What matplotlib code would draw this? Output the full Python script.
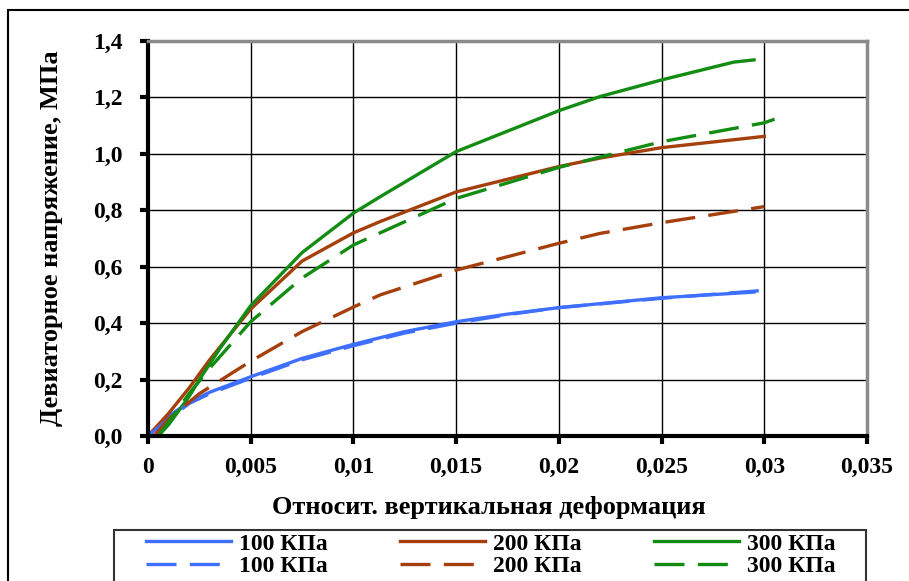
import matplotlib.pyplot as plt
from matplotlib.patches import Rectangle
from matplotlib.lines import Line2D

plt.rcParams['font.family'] = ['Liberation Serif', 'DejaVu Serif']
plt.rcParams['font.weight'] = 'bold'

# values
x_100 = [0, 0.001, 0.002, 0.003, 0.005, 0.0075, 0.01, 0.0125, 0.015, 0.0175, 0.02, 0.025, 0.0295]
y_100 = [0, 0.07, 0.12, 0.155, 0.21, 0.275, 0.325, 0.37, 0.405, 0.432, 0.455, 0.49, 0.51]
x_100d = [0, 0.001, 0.002, 0.003, 0.005, 0.0075, 0.01, 0.0125, 0.015, 0.0175, 0.02, 0.025, 0.0303]
y_100d = [0, 0.06, 0.115, 0.15, 0.205, 0.27, 0.32, 0.365, 0.40, 0.43, 0.455, 0.488, 0.518]

x_200 = [0, 0.001, 0.002, 0.003, 0.004, 0.005, 0.0075, 0.01, 0.0113, 0.015, 0.02, 0.022, 0.025, 0.03]
y_200 = [0, 0.08, 0.17, 0.27, 0.36, 0.45, 0.62, 0.72, 0.76, 0.865, 0.955, 0.985, 1.022, 1.062]
x_200d = [0.0003, 0.001, 0.0025, 0.005, 0.0075, 0.01, 0.0113, 0.015, 0.02, 0.022, 0.025, 0.03]
y_200d = [0, 0.06, 0.15, 0.265, 0.37, 0.457, 0.5, 0.588, 0.683, 0.718, 0.756, 0.813]

x_300 = [0.0005, 0.001, 0.002, 0.0025, 0.0035, 0.005, 0.0075, 0.01, 0.0113, 0.015, 0.02, 0.022, 0.025, 0.0285, 0.0295]
y_300 = [0, 0.04, 0.14, 0.2, 0.31, 0.462, 0.65, 0.79, 0.848, 1.008, 1.153, 1.203, 1.262, 1.325, 1.333]
x_300d = [0.0005, 0.001, 0.002, 0.003, 0.005, 0.0075, 0.01, 0.0113, 0.015, 0.02, 0.025, 0.03, 0.0305]
y_300d = [0, 0.05, 0.15, 0.24, 0.405, 0.56, 0.677, 0.72, 0.842, 0.952, 1.043, 1.11, 1.123]

x_ticks = [0, 0.005, 0.01, 0.015, 0.02, 0.025, 0.03, 0.035]
x_ticklabels = ['0', '0,005', '0,01', '0,015', '0,02', '0,025', '0,03', '0,035']
y_ticks = [0, 0.2, 0.4, 0.6, 0.8, 1.0, 1.2, 1.4]
y_ticklabels = ['0,0', '0,2', '0,4', '0,6', '0,8', '1,0', '1,2', '1,4']
labels = ['100 КПа', '200 КПа', '300 КПа']

blue = '#3f6fff'
brown = '#a53f0c'
green = '#128c12'
lw = 2.4
dash = (9, 4)

W, H = 909, 581
fig = plt.figure(figsize=(W / 100, H / 100), dpi=100)
ax = fig.add_axes([148 / W, 145 / H, 719 / W, 395 / H])

ax.plot(x_100, y_100, color=blue, lw=lw)
ax.plot(x_200, y_200, color=brown, lw=lw)
ax.plot(x_300, y_300, color=green, lw=lw)
ax.plot(x_100d, y_100d, color=blue, lw=lw, dashes=dash)
ax.plot(x_200d, y_200d, color=brown, lw=lw, dashes=dash)
ax.plot(x_300d, y_300d, color=green, lw=lw, dashes=dash)

ax.set_xlim(0, 0.035)
ax.set_ylim(0, 1.4)
ax.set_xticks(x_ticks)
ax.set_xticklabels(x_ticklabels)
ax.set_yticks(y_ticks)
ax.set_yticklabels(y_ticklabels)
ax.tick_params(labelsize=17, length=6, width=3, color='black')
ax.tick_params(axis='x', pad=9)
ax.tick_params(axis='y', pad=12)
ax.grid(True, color='black', lw=1)
ax.set_axisbelow(True)

for s in ['left', 'bottom']:
    ax.spines[s].set_linewidth(3)
    ax.spines[s].set_color('black')
for s in ['top', 'right']:
    ax.spines[s].set_linewidth(2.5)
    ax.spines[s].set_color('#8a8a8a')

ax.set_xlabel('Относит. вертикальная деформация', fontsize=19, fontweight='bold')
ax.xaxis.set_label_coords(0.474, -0.153)
ax.set_ylabel('Девиаторное напряжение, МПа', fontsize=19, fontweight='bold')
ax.yaxis.set_label_coords(-0.118, 0.5)

colors = [blue, brown, green]
handles = []
names = []
for c, name in zip(colors, labels):
    handles.append(Line2D([], [], color=c, lw=lw))
    handles.append(Line2D([], [], color=c, lw=lw, dashes=dash))
    names += [name, name]
fig.legend(handles, names, ncol=3, loc='upper left',
           bbox_to_anchor=(146 / W, 1 - 533 / H), frameon=False,
           fontsize=17, handlelength=3.6, handletextpad=0.35,
           columnspacing=3.05, labelspacing=0.05, borderpad=0,
           borderaxespad=0)

# legend box, cut by the bottom edge of the image
fig.patches.append(Rectangle((114 / W, -0.2), 752 / W, 0.2 + 1 - 530 / H,
                             transform=fig.transFigure, fill=False,
                             edgecolor='#333333', lw=1.5))

# outer chart frame (partially outside the image)
fig.patches.append(Rectangle((8 / W, -0.2), 1.5, 1.2 - 10 / H,
                             transform=fig.transFigure, fill=False,
                             edgecolor='black', lw=1.5))

fig.savefig('out.png', dpi=100)
